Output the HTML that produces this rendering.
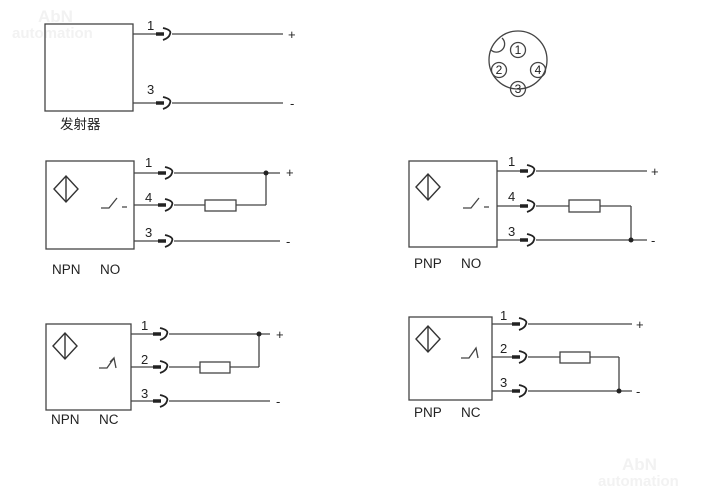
<!DOCTYPE html>
<html><head><meta charset="utf-8"><style>
html,body{margin:0;padding:0;background:#fff;width:713px;height:492px;overflow:hidden}
text{font-family:"Liberation Sans","Noto Sans CJK SC",sans-serif;fill:#222}
</style></head><body>
<svg width="713" height="492" viewBox="0 0 713 492" xmlns="http://www.w3.org/2000/svg">
<defs>
<g id="c"><line x1="-9" y1="0" x2="-1" y2="0" stroke="#222" stroke-width="3.5"/><path d="M-2,-6 Q7,-4 5,0 Q4,4 -2,6" fill="none" stroke="#222" stroke-width="1.8"/></g>
<g id="s" fill="none" stroke="#333" stroke-width="1.4"><path d="M0,0 L12,-13 L24,0 L12,13 Z"/><line x1="12" y1="-13" x2="12" y2="13"/></g>
</defs>
<text x="38" y="22" font-size="17" font-weight="bold" style="fill:#f2f2f2">AbN</text>
<text x="12" y="38" font-size="15" font-weight="bold" style="fill:#f2f2f2">automation</text>
<text x="622" y="470" font-size="17" font-weight="bold" style="fill:#f2f2f2">AbN</text>
<text x="598" y="486" font-size="15" font-weight="bold" style="fill:#f2f2f2">automation</text>

<g stroke="#444" stroke-width="1.3" fill="none">
<rect x="45" y="24" width="88" height="87"/>
<line x1="133" y1="34" x2="158" y2="34"/><line x1="172" y1="34" x2="283" y2="34"/>
<line x1="133" y1="103" x2="158" y2="103"/><line x1="172" y1="103" x2="283" y2="103"/>
<rect x="46" y="161" width="88" height="88"/>
<line x1="134" y1="173" x2="160" y2="173"/><line x1="174" y1="173" x2="280" y2="173"/>
<line x1="134" y1="205" x2="160" y2="205"/><line x1="174" y1="205" x2="205" y2="205"/><rect x="205" y="200" width="31" height="11"/><line x1="236" y1="205" x2="266" y2="205"/><line x1="266" y1="173" x2="266" y2="205"/>
<line x1="134" y1="241" x2="160" y2="241"/><line x1="174" y1="241" x2="280" y2="241"/>
<path d="M101,208 L109,208 L117,198 M122,207 L127,207"/>
<rect x="409" y="161" width="88" height="86"/>
<line x1="497" y1="171" x2="522" y2="171"/><line x1="536" y1="171" x2="647" y2="171"/>
<line x1="497" y1="206" x2="522" y2="206"/><line x1="536" y1="206" x2="569" y2="206"/><rect x="569" y="200" width="31" height="12"/><line x1="600" y1="206" x2="631" y2="206"/><line x1="631" y1="206" x2="631" y2="240"/>
<line x1="497" y1="240" x2="522" y2="240"/><line x1="536" y1="240" x2="647" y2="240"/>
<path d="M463,208 L471,208 L479,198 M484,207 L489,207"/>
<rect x="46" y="324" width="85" height="86"/>
<line x1="131" y1="334" x2="155" y2="334"/><line x1="169" y1="334" x2="270" y2="334"/>
<line x1="131" y1="367" x2="155" y2="367"/><line x1="169" y1="367" x2="200" y2="367"/><rect x="200" y="362" width="30" height="11"/><line x1="230" y1="367" x2="259" y2="367"/><line x1="259" y1="334" x2="259" y2="367"/>
<line x1="131" y1="401" x2="155" y2="401"/><line x1="169" y1="401" x2="270" y2="401"/>
<path d="M99,368 L107,368 L114,358 L116,368 M110,362 L114,358"/>
<rect x="409" y="317" width="83" height="83"/>
<line x1="492" y1="324" x2="514" y2="324"/><line x1="528" y1="324" x2="632" y2="324"/>
<line x1="492" y1="357" x2="514" y2="357"/><line x1="528" y1="357" x2="560" y2="357"/><rect x="560" y="352" width="30" height="11"/><line x1="590" y1="357" x2="619" y2="357"/><line x1="619" y1="357" x2="619" y2="391"/>
<line x1="492" y1="391" x2="514" y2="391"/><line x1="528" y1="391" x2="632" y2="391"/>
<path d="M461,358 L469,358 L476,348 L478,358"/>
<circle cx="518" cy="60" r="29"/>
<path d="M491,50 A7,7 0 0 0 502,38"/>
<circle cx="518" cy="50" r="7.5"/><circle cx="499" cy="70" r="7.5"/><circle cx="538" cy="70" r="7.5"/><circle cx="518" cy="89" r="7.5"/>
</g>
<g font-size="12" text-anchor="middle">
<text x="518" y="54">1</text><text x="499" y="74">2</text><text x="538" y="74">4</text><text x="518" y="93">3</text>
</g>
<use href="#c" x="165" y="34"/><use href="#c" x="165" y="103"/>
<use href="#c" x="167" y="173"/><use href="#c" x="167" y="205"/><use href="#c" x="167" y="241"/>
<use href="#c" x="529" y="171"/><use href="#c" x="529" y="206"/><use href="#c" x="529" y="240"/>
<use href="#c" x="162" y="334"/><use href="#c" x="162" y="367"/><use href="#c" x="162" y="401"/>
<use href="#c" x="521" y="324"/><use href="#c" x="521" y="357"/><use href="#c" x="521" y="391"/>
<use href="#s" x="54" y="189"/><use href="#s" x="416" y="187"/><use href="#s" x="53" y="346"/><use href="#s" x="416" y="339"/>
<g fill="#222"><circle cx="266" cy="173" r="2.5"/><circle cx="631" cy="240" r="2.5"/><circle cx="259" cy="334" r="2.5"/><circle cx="619" cy="391" r="2.5"/></g>
<g font-size="13">
<text x="147" y="30">1</text><text x="147" y="94">3</text>
<text x="145" y="167">1</text><text x="145" y="202">4</text><text x="145" y="237">3</text>
<text x="508" y="166">1</text><text x="508" y="201">4</text><text x="508" y="236">3</text>
<text x="141" y="330">1</text><text x="141" y="364">2</text><text x="141" y="398">3</text>
<text x="500" y="320">1</text><text x="500" y="353">2</text><text x="500" y="387">3</text>
<text x="288" y="39">+</text><text x="290" y="108">-</text>
<text x="286" y="177">+</text><text x="286" y="246">-</text>
<text x="651" y="176">+</text><text x="651" y="245">-</text>
<text x="276" y="339">+</text><text x="276" y="406">-</text>
<text x="636" y="329">+</text><text x="636" y="396">-</text>
</g>
<g font-size="13.5">
<text x="60" y="129">发射器</text>
<text x="52" y="274">NPN</text><text x="100" y="274">NO</text>
<text x="414" y="268">PNP</text><text x="461" y="268">NO</text>
<text x="51" y="424">NPN</text><text x="99" y="424">NC</text>
<text x="414" y="417">PNP</text><text x="461" y="417">NC</text>
</g>
</svg>
</body></html>
